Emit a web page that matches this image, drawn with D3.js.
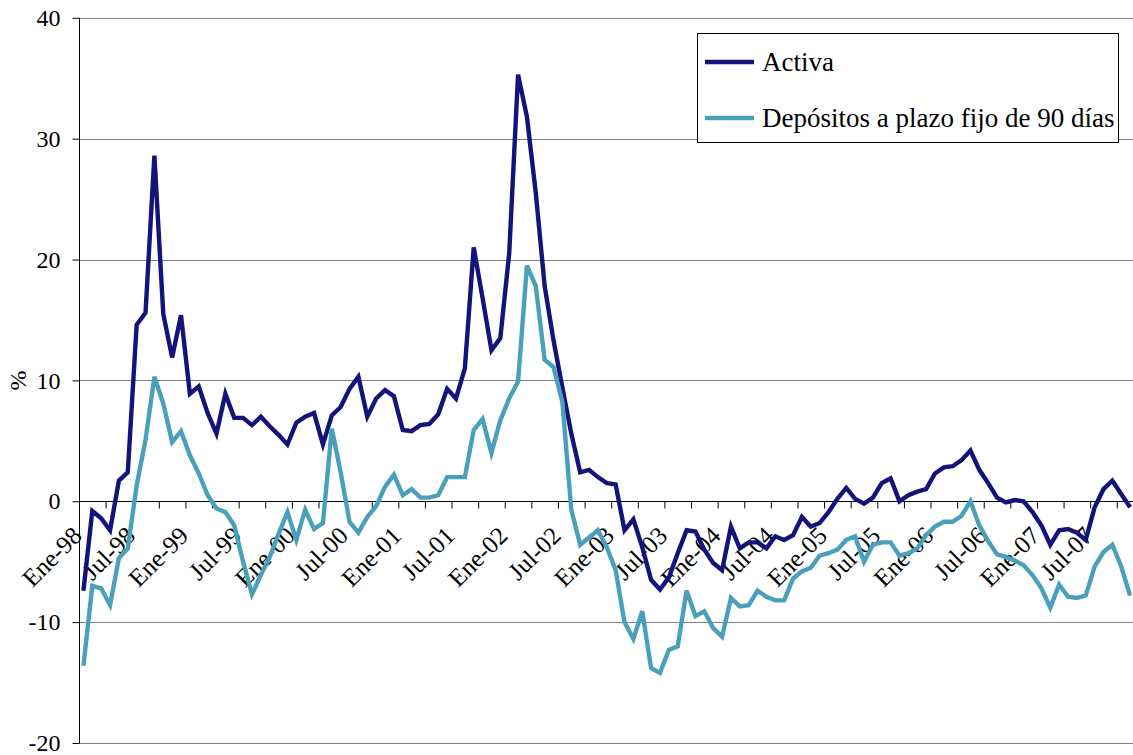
<!DOCTYPE html>
<html>
<head>
<meta charset="utf-8">
<script src="https://cdn.jsdelivr.net/npm/d3@7"></script>
<style>
  html, body { margin: 0; padding: 0; background: #fff; }
  svg { display: block; }
  text { font-family: "Liberation Serif", "Times New Roman", Times, serif; fill: #000; }
</style>
</head>
<body>
<svg id="chart" width="1133" height="755"></svg>
<script>
// ---- Data ----
const monthNames = ["Ene","Feb","Mar","Abr","May","Jun","Jul","Ago","Sep","Oct","Nov","Dic"];
const years = ["98","99","00","01","02","03","04","05","06","07"];
const nCategories = 120; // Ene-98 .. Dic-07

const activa = [
  -7.4, -0.8, -1.4, -2.4, 1.7, 2.4, 14.6, 15.6, 28.6, 15.5, 11.9, 15.4,
  8.9, 9.5, 7.3, 5.6, 8.9, 6.9, 6.9, 6.3, 7.0, 6.2, 5.5, 4.7,
  6.5, 7.0, 7.3, 4.7, 7.1, 7.8, 9.3, 10.3, 7.0, 8.5, 9.2, 8.7,
  5.9, 5.8, 6.3, 6.4, 7.2, 9.3, 8.5, 11.0, 21.0, 16.8, 12.5, 13.5,
  20.5, 35.3, 31.8, 25.5, 17.8, 13.3, 9.4, 5.6, 2.4, 2.6, 2.0, 1.5,
  1.4, -2.4, -1.5, -3.8, -6.5, -7.3, -6.3, -4.3, -2.4, -2.5, -4.0, -5.1,
  -5.7, -2.1, -3.9, -3.4, -3.4, -3.9, -2.9, -3.2, -2.8, -1.3, -2.1, -1.8,
  -0.9, 0.2, 1.1, 0.2, -0.2, 0.3, 1.5, 1.9, 0.0, 0.5, 0.8, 1.0,
  2.3, 2.8, 2.9, 3.4, 4.2, 2.6, 1.5, 0.3, -0.1, 0.1, 0.0, -0.9,
  -2.0, -3.6, -2.4, -2.3, -2.6, -3.2, -0.5, 1.0, 1.7, 0.6, -0.5
];
const depositos = [
  -13.6, -7.0, -7.2, -8.6, -4.7, -3.9, 1.3, 5.1, 10.3, 8.1, 4.9, 5.8,
  3.8, 2.3, 0.5, -0.6, -0.9, -2.0, -5.0, -7.7, -6.1, -4.6, -2.7, -0.9,
  -3.2, -0.7, -2.3, -1.8, 6.0, 2.4, -1.7, -2.6, -1.3, -0.4, 1.2, 2.2,
  0.5, 1.0, 0.3, 0.3, 0.5, 2.0, 2.0, 2.0, 5.9, 6.8, 4.0, 6.7,
  8.5, 9.9, 19.5, 17.8, 11.7, 11.1, 8.2, -0.7, -3.6, -3.0, -2.4, -3.8,
  -5.7, -10.0, -11.4, -9.1, -13.8, -14.2, -12.3, -12.0, -7.4, -9.5, -9.1, -10.5,
  -11.2, -8.0, -8.7, -8.6, -7.4, -7.9, -8.2, -8.2, -6.4, -5.8, -5.5, -4.5,
  -4.3, -4.0, -3.2, -2.9, -5.0, -3.6, -3.4, -3.4, -4.5, -4.3, -3.9, -2.8,
  -2.1, -1.7, -1.7, -1.2, 0.0, -2.0, -3.3, -4.4, -4.6, -4.9, -5.3, -6.1,
  -7.2, -8.8, -6.9, -7.9, -8.0, -7.8, -5.4, -4.2, -3.6, -5.4, -7.8
];
const seriesNames = ["Activa", "Depósitos a plazo fijo de 90 días"];
const seriesColors = ["#13137a", "#4aa0bb"];
const yTicks = [-20, -10, 0, 10, 20, 30, 40];
const yLabel = "%";

// categories built from month/year names
const categories = [];
years.forEach(yy => monthNames.forEach(m => categories.push(m + "-" + yy)));
const labelEvery = 6, tickEvery = 3;

// ---- Layout ----
const svg = d3.select("#chart");
const plotLeft = 79, step = 8.87;
const plotRight = plotLeft + nCategories * step;
const plotTop = 17.8, plotBottom = 743;

const x = d3.scaleBand().domain(d3.range(nCategories)).range([plotLeft, plotRight]).padding(0);
const xb = d3.scaleLinear().domain([0, nCategories]).range([plotLeft, plotRight]);
const y = d3.scaleLinear().domain([-20, 40]).range([plotBottom, plotTop]);
const cx = i => x(i) + x.bandwidth() / 2;

// gridlines
svg.append("g").selectAll("line").data(yTicks.filter(t => t !== 0)).join("line")
  .attr("x1", plotLeft).attr("x2", plotRight)
  .attr("y1", d => Math.round(y(d)) + 0.5).attr("y2", d => Math.round(y(d)) + 0.5)
  .attr("stroke", "#808080").attr("stroke-width", 1);

// y axis
const yAxis = d3.axisLeft(y).tickValues(yTicks).tickSize(7).tickPadding(12).tickFormat(d => String(d));
const gy = svg.append("g").attr("transform", `translate(${plotLeft + 0.5},0)`).call(yAxis);
gy.attr("font-family", null);
gy.select(".domain").attr("stroke", "#000").attr("d", `M0,${y(40)}V${y(-20)}`);
gy.selectAll(".tick line").attr("stroke", "#000");
gy.selectAll(".tick text").attr("font-size", 24).attr("fill", "#000").attr("dy", "0.32em");

// y label
svg.append("text").attr("transform", `translate(26,${y(10)}) rotate(-90)`)
  .attr("text-anchor", "middle").attr("font-size", 24).text(yLabel);

// x axis at zero
const xAxis = d3.axisBottom(xb).tickValues(d3.range(tickEvery, nCategories, tickEvery))
  .tickSize(7).tickFormat("");
const gx = svg.append("g").attr("transform", `translate(0,${Math.round(y(0)) + 0.5})`).call(xAxis);
gx.select(".domain").attr("stroke", "#000").attr("d", `M${plotLeft},0H${plotRight}`);
gx.selectAll(".tick line").attr("stroke", "#000");

// x labels
svg.append("g").selectAll("text")
  .data(categories.map((c, i) => ({c, i})).filter(d => d.i % labelEvery === 0))
  .join("text")
  .attr("transform", d => `translate(${cx(d.i)},${y(0) + 36}) rotate(-45)`)
  .attr("text-anchor", "end")
  .attr("font-size", 25)
  .text(d => d.c);

// lines
const line = d3.line().x((d, i) => cx(i)).y(d => y(d));
[activa, depositos].forEach((s, k) => {
  svg.append("path").datum(s).attr("d", line)
    .attr("fill", "none").attr("stroke", seriesColors[k])
    .attr("stroke-width", 4.4).attr("stroke-linejoin", "miter");
});

// legend
const lg = svg.append("g");
lg.append("rect").attr("x", 697.5).attr("y", 33.5).attr("width", 421).attr("height", 109)
  .attr("fill", "#fff").attr("stroke", "#000").attr("stroke-width", 1);
seriesNames.forEach((n, k) => {
  const ly = 62 + k * 56;
  lg.append("line").attr("x1", 705).attr("x2", 754).attr("y1", ly).attr("y2", ly)
    .attr("stroke", seriesColors[k]).attr("stroke-width", 4.4);
  lg.append("text").attr("x", 762).attr("y", ly + 9).attr("font-size", 27).text(n);
});
</script>
</body>
</html>
